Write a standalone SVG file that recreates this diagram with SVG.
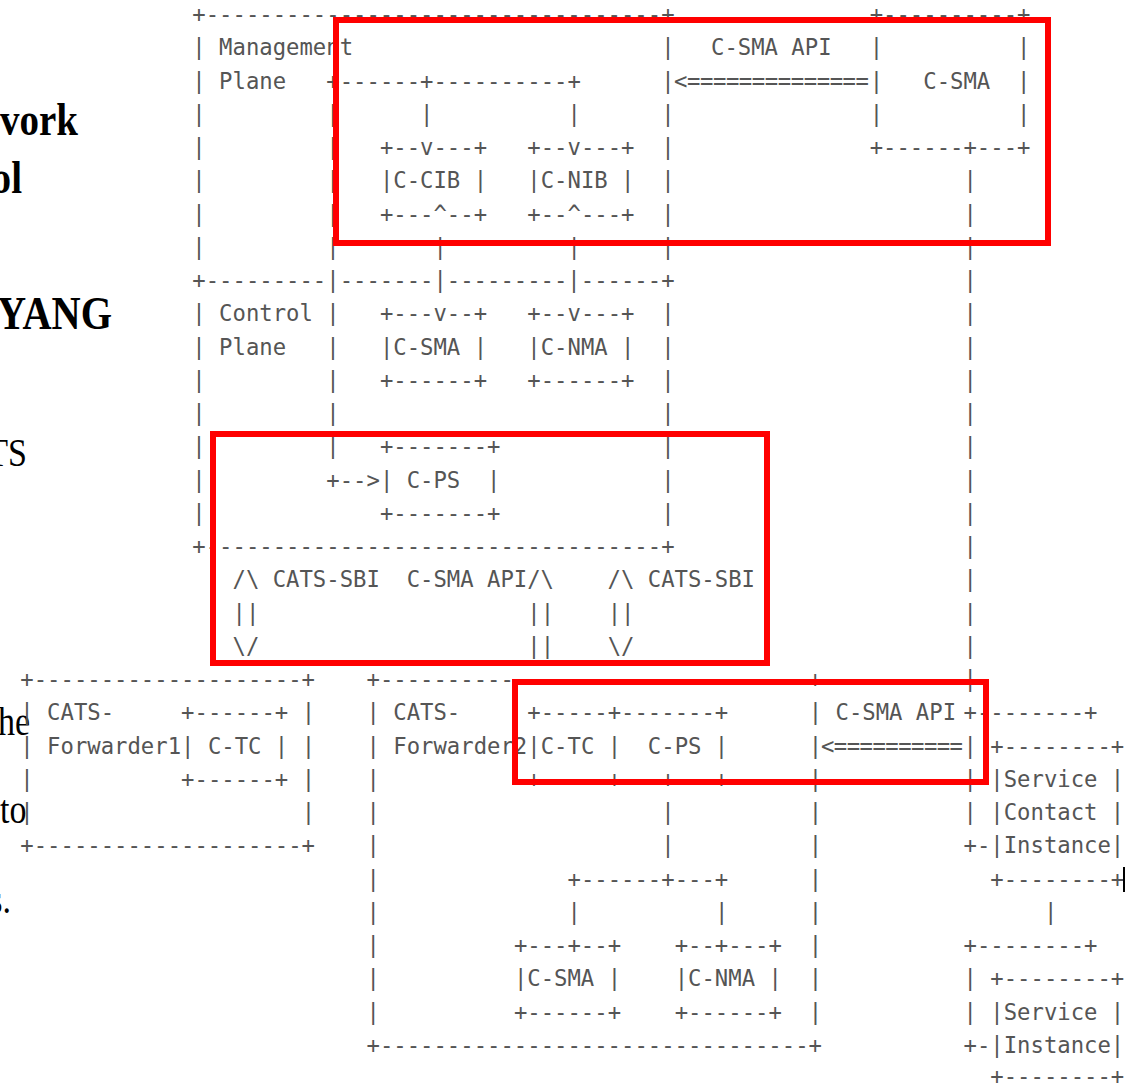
<svg xmlns="http://www.w3.org/2000/svg" width="1143" height="1086" viewBox="0 0 1143 1086">
<style>
.t{font-family:"DejaVu Sans Mono",monospace;font-size:22.26px;fill:#555;white-space:pre}
.sb{font-family:"Liberation Serif",serif;font-weight:bold;font-size:46px;fill:#000}
.sr{font-family:"Liberation Serif",serif;font-size:40px;fill:#000}
.hl{fill:none;stroke:#ff0000;stroke-width:6}
</style>
<rect width="1143" height="1086" fill="#fff"/>
<g id="page-text">
<text class="sb" x="0" y="135" textLength="78" lengthAdjust="spacingAndGlyphs">vork</text>
<text class="sb" x="-8.4" y="193" textLength="30.4" lengthAdjust="spacingAndGlyphs">ol</text>
<text class="sb" x="-3" y="329" textLength="115" lengthAdjust="spacingAndGlyphs">YANG</text>
<text class="sr" x="-12.7" y="466" textLength="39.7" lengthAdjust="spacingAndGlyphs">TS</text>
<text class="sr" x="-2" y="735" textLength="32.1" lengthAdjust="spacingAndGlyphs">he</text>
<text class="sr" x="0" y="823" textLength="26.4" lengthAdjust="spacingAndGlyphs">to</text>
<text class="sr" x="-10.7" y="913" textLength="21.7" lengthAdjust="spacingAndGlyphs">s.</text>
</g>
<g id="management-plane">
<text class="t" x="192.3" y="22">+----------------------------------+</text>
<text class="t" x="192.3" y="55.25">| Management</text>
<text class="t" x="192.3" y="88.5">| Plane</text>
<text class="t"><tspan x="192.3" y="121.75">|</tspan><tspan x="192.3" y="155">|</tspan><tspan x="192.3" y="188.25">|</tspan><tspan x="192.3" y="221.5">|</tspan><tspan x="192.3" y="254.75">|</tspan></text>
<text class="t"><tspan x="661.3" y="55.25">|</tspan><tspan x="661.3" y="88.5">|</tspan><tspan x="661.3" y="121.75">|</tspan><tspan x="661.3" y="155">|</tspan><tspan x="661.3" y="188.25">|</tspan><tspan x="661.3" y="221.5">|</tspan><tspan x="661.3" y="254.75">|</tspan></text>
<text class="t" x="192.3" y="288">+---------|-------|---------|------+</text>
</g>
<g id="c-cib">
<text class="t" x="379.9" y="155">+--v---+</text>
<text class="t" x="379.9" y="188.25">|C-CIB |</text>
<text class="t" x="379.9" y="221.5">+---^--+</text>
</g>
<g id="c-nib">
<text class="t" x="527.3" y="155">+--v---+</text>
<text class="t" x="527.3" y="188.25">|C-NIB |</text>
<text class="t" x="527.3" y="221.5">+--^---+</text>
</g>
<g id="c-sma-top">
<text class="t" x="869.7" y="22">+----------+</text>
<text class="t" x="869.7" y="55.25">|          |</text>
<text class="t" x="869.7" y="88.5">|   C-SMA  |</text>
<text class="t" x="869.7" y="121.75">|          |</text>
<text class="t" x="869.7" y="155">+------+---+</text>
</g>
<g id="control-plane">
<text class="t" x="192.3" y="321.25">| Control</text>
<text class="t" x="192.3" y="354.5">| Plane</text>
<text class="t"><tspan x="192.3" y="387.75">|</tspan><tspan x="192.3" y="421">|</tspan><tspan x="192.3" y="454.25">|</tspan><tspan x="192.3" y="487.5">|</tspan><tspan x="192.3" y="520.75">|</tspan></text>
<text class="t"><tspan x="661.3" y="321.25">|</tspan><tspan x="661.3" y="354.5">|</tspan><tspan x="661.3" y="387.75">|</tspan><tspan x="661.3" y="421">|</tspan><tspan x="661.3" y="454.25">|</tspan><tspan x="661.3" y="487.5">|</tspan><tspan x="661.3" y="520.75">|</tspan></text>
<text class="t" x="192.3" y="554">+----------------------------------+</text>
</g>
<g id="c-sma-control">
<text class="t" x="379.9" y="321.25">+---v--+</text>
<text class="t" x="379.9" y="354.5">|C-SMA |</text>
<text class="t" x="379.9" y="387.75">+------+</text>
</g>
<g id="c-nma-control">
<text class="t" x="527.3" y="321.25">+--v---+</text>
<text class="t" x="527.3" y="354.5">|C-NMA |</text>
<text class="t" x="527.3" y="387.75">+------+</text>
</g>
<g id="c-ps-control">
<text class="t" x="379.9" y="454.25">+-------+</text>
<text class="t" x="379.9" y="487.5">| C-PS  |</text>
<text class="t" x="379.9" y="520.75">+-------+</text>
</g>
<g id="cats-forwarder1">
<text class="t" x="20.3" y="687">+--------------------+</text>
<text class="t" x="20.3" y="720.25">| CATS-</text>
<text class="t" x="20.3" y="753.5">| Forwarder1</text>
<text class="t"><tspan x="20.3" y="786.75">|</tspan><tspan x="20.3" y="820">|</tspan></text>
<text class="t"><tspan x="301.7" y="720.25">|</tspan><tspan x="301.7" y="753.5">|</tspan><tspan x="301.7" y="786.75">|</tspan><tspan x="301.7" y="820">|</tspan></text>
<text class="t" x="20.3" y="853.25">+--------------------+</text>
</g>
<g id="c-tc-forwarder1">
<text class="t" x="181.1" y="720.25">+------+</text>
<text class="t" x="181.1" y="753.5">| C-TC |</text>
<text class="t" x="181.1" y="786.75">+------+</text>
</g>
<g id="cats-forwarder2">
<text class="t" x="366.5" y="687">+--------------------------------+</text>
<text class="t" x="366.5" y="720.25">| CATS-</text>
<text class="t" x="366.5" y="753.5">| Forwarder2</text>
<text class="t"><tspan x="366.5" y="786.75">|</tspan><tspan x="366.5" y="820">|</tspan><tspan x="366.5" y="853.25">|</tspan><tspan x="366.5" y="886.5">|</tspan><tspan x="366.5" y="919.75">|</tspan><tspan x="366.5" y="953">|</tspan><tspan x="366.5" y="986.25">|</tspan><tspan x="366.5" y="1019.5">|</tspan></text>
<text class="t"><tspan x="808.7" y="720.25">|</tspan><tspan x="808.7" y="753.5">|</tspan><tspan x="808.7" y="786.75">|</tspan><tspan x="808.7" y="820">|</tspan><tspan x="808.7" y="853.25">|</tspan><tspan x="808.7" y="886.5">|</tspan><tspan x="808.7" y="919.75">|</tspan><tspan x="808.7" y="953">|</tspan><tspan x="808.7" y="986.25">|</tspan><tspan x="808.7" y="1019.5">|</tspan></text>
<text class="t" x="366.5" y="1052.75">+--------------------------------+</text>
</g>
<g id="c-tc-c-ps-forwarder2">
<text class="t" x="527.3" y="720.25">+-----+-------+</text>
<text class="t" x="527.3" y="753.5">|C-TC |  C-PS |</text>
<text class="t" x="527.3" y="786.75">+-----+---+---+</text>
</g>
<g id="c-sma-forwarder2">
<text class="t" x="513.9" y="953">+---+--+</text>
<text class="t" x="513.9" y="986.25">|C-SMA |</text>
<text class="t" x="513.9" y="1019.5">+------+</text>
</g>
<g id="c-nma-forwarder2">
<text class="t" x="674.7" y="953">+--+---+</text>
<text class="t" x="674.7" y="986.25">|C-NMA |</text>
<text class="t" x="674.7" y="1019.5">+------+</text>
</g>
<g id="service-contact-instance">
<text class="t" x="990.3" y="753.5">+--------+</text>
<text class="t" x="990.3" y="786.75">|Service |</text>
<text class="t" x="990.3" y="820">|Contact |</text>
<text class="t" x="990.3" y="853.25">|Instance|</text>
<text class="t" x="990.3" y="886.5">+--------+</text>
</g>
<g id="service-instance">
<text class="t" x="990.3" y="986.25">+--------+</text>
<text class="t" x="990.3" y="1019.5">|Service |</text>
<text class="t" x="990.3" y="1052.75">|Instance|</text>
<text class="t" x="990.3" y="1084">+--------+</text>
</g>
<g id="connectors">
<text class="t" x="326.3" y="88.5">+------+----------+</text>
<text class="t"><tspan x="420.1" y="121.75">|</tspan><tspan x="567.5" y="121.75">|</tspan><tspan x="433.5" y="254.75">|</tspan><tspan x="567.5" y="254.75">|</tspan></text>
<text class="t"><tspan x="326.3" y="121.75">|</tspan><tspan x="326.3" y="155">|</tspan><tspan x="326.3" y="188.25">|</tspan><tspan x="326.3" y="221.5">|</tspan><tspan x="326.3" y="254.75">|</tspan><tspan x="326.3" y="321.25">|</tspan><tspan x="326.3" y="354.5">|</tspan><tspan x="326.3" y="387.75">|</tspan><tspan x="326.3" y="421">|</tspan><tspan x="326.3" y="454.25">|</tspan></text>
<text class="t" x="326.3" y="487.5">+--&gt;</text>
<text class="t" x="711" y="55.25">C-SMA API</text>
<text class="t" x="674" y="88.5" textLength="195">&lt;==============</text>
<text class="t"><tspan x="963.5" y="188.25">|</tspan><tspan x="963.5" y="221.5">|</tspan><tspan x="963.5" y="254.75">|</tspan><tspan x="963.5" y="288">|</tspan><tspan x="963.5" y="321.25">|</tspan><tspan x="963.5" y="354.5">|</tspan><tspan x="963.5" y="387.75">|</tspan><tspan x="963.5" y="421">|</tspan><tspan x="963.5" y="454.25">|</tspan><tspan x="963.5" y="487.5">|</tspan><tspan x="963.5" y="520.75">|</tspan><tspan x="963.5" y="554">|</tspan><tspan x="963.5" y="587.25">|</tspan><tspan x="963.5" y="620.5">|</tspan><tspan x="963.5" y="653.75">|</tspan><tspan x="963.5" y="687">|</tspan></text>
<text class="t" x="232.5" y="587.25">/\ CATS-SBI  C-SMA API/\    /\ CATS-SBI</text>
<text class="t"><tspan x="232.5" y="620.5">||</tspan><tspan x="527.3" y="620.5">||</tspan><tspan x="607.7" y="620.5">||</tspan></text>
<text class="t"><tspan x="232.5" y="653.75">\/</tspan><tspan x="527.3" y="653.75">||</tspan><tspan x="607.7" y="653.75">\/</tspan></text>
<text class="t" x="835.5" y="720.25">C-SMA API</text>
<text class="t" x="821" y="753.5" textLength="142">&lt;==========</text>
<text class="t"><tspan x="661.3" y="820">|</tspan><tspan x="661.3" y="853.25">|</tspan></text>
<text class="t" x="567.5" y="886.5">+------+---+</text>
<text class="t"><tspan x="567.5" y="919.75">|</tspan><tspan x="714.9" y="919.75">|</tspan></text>
<text class="t" x="963.5" y="720.25">+--------+</text>
<text class="t"><tspan x="963.5" y="753.5">|</tspan><tspan x="963.5" y="786.75">|</tspan><tspan x="963.5" y="820">|</tspan></text>
<text class="t" x="963.5" y="853.25">+-</text>
<text class="t" x="1043.9" y="919.75">|</text>
<text class="t" x="963.5" y="953">+--------+</text>
<text class="t"><tspan x="963.5" y="986.25">|</tspan><tspan x="963.5" y="1019.5">|</tspan></text>
<text class="t" x="963.5" y="1052.75">+-</text>
</g>
<line x1="1124" y1="867" x2="1124" y2="892" stroke="#000" stroke-width="2"/>
<g id="highlights">
<rect class="hl" x="336" y="20" width="712" height="223"/>
<rect class="hl" x="213" y="434" width="554" height="229"/>
<rect class="hl" x="515" y="682" width="471" height="100"/>
</g>
</svg>
